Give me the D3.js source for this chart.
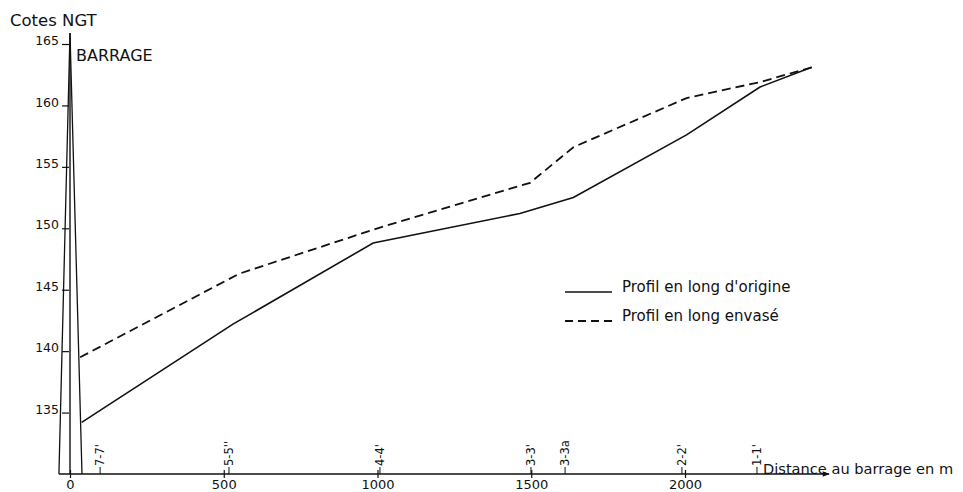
<!DOCTYPE html>
<html>
<head>
<meta charset="utf-8">
<script src="https://cdn.jsdelivr.net/npm/d3@7"></script>
<style>
  html, body { margin: 0; padding: 0; background: #fff; }
  svg { display: block; font-family: "DejaVu Sans", sans-serif; }
  text { fill: #111; }
</style>
</head>
<body>
<svg id="chart" width="963" height="492"></svg>
<script>
// Longitudinal profile of the reservoir bed (distance from dam, m; elevation NGT, m)
const distTicks = [0, 500, 1000, 1500, 2000];
const elevTicks = [135, 140, 145, 150, 155, 160, 165];

const stationNames = ["7-7'", "5-5''", "4-4'", "3-3'", "3-3a", "2-2'", "1-1'"];
const stationDist = [98, 517, 1008, 1499, 1610, 1990, 2234];

// original bed profile
const originDist = [38, 530, 986, 1463, 1637, 2005, 2244, 2412];
const originElev = [134.2, 142.2, 148.8, 151.2, 152.5, 157.6, 161.5, 163.1];

// silted bed profile
const siltDist = [33, 550, 1000, 1496, 1637, 2005, 2244, 2412];
const siltElev = [139.5, 146.3, 150.0, 153.7, 156.6, 160.6, 161.9, 163.1];

// dam cross-section outline
const damDist = [-36, 0, 39];
const damElev = [130, 165.9, 130];

const legendLabels = ["Profil en long d'origine", "Profil en long envasé"];

const svg = d3.select("#chart");
svg.append("rect").attr("width", 963).attr("height", 492).attr("fill", "#fff");

const x = d3.scaleLinear().domain([0, 2000]).range([70, 685]);
const y = d3.scaleLinear().domain([130, 165]).range([474, 44]);
const ink = "#111";

// arrow marker for distance axis
svg.append("defs").append("marker")
  .attr("id", "arrow").attr("viewBox", "0 0 10 10")
  .attr("refX", 9).attr("refY", 5)
  .attr("markerWidth", 9).attr("markerHeight", 7)
  .attr("markerUnits", "userSpaceOnUse")
  .attr("orient", "auto")
  .append("path").attr("d", "M0,1 L10,5 L0,9 Z").attr("fill", ink);

// distance axis line
svg.append("line")
  .attr("x1", x(-36)).attr("x2", 829)
  .attr("y1", y(130)).attr("y2", y(130))
  .attr("stroke", ink).attr("stroke-width", 1.5)
  .attr("marker-end", "url(#arrow)");

// distance ticks
const xAxis = d3.axisBottom(x).tickValues(distTicks).tickSize(4).tickPadding(7).tickFormat(d3.format("d"));
const gx = svg.append("g").attr("transform", `translate(0,${y(130)})`).call(xAxis);
gx.select(".domain").remove();
gx.selectAll(".tick line").attr("y1", -4).attr("y2", 4).attr("stroke", ink).attr("stroke-width", 1.2);
gx.selectAll(".tick text")
  .attr("font-size", 13).attr("font-family", "DejaVu Sans, sans-serif")
  .attr("fill", ink).attr("dy", null).attr("y", 14.5);

// elevation ticks along the dam axis
const yAxis = d3.axisLeft(y).tickValues(elevTicks).tickSize(7).tickPadding(3);
const gy = svg.append("g").attr("transform", `translate(${x(0) - 1},0)`).call(yAxis);
gy.select(".domain").remove();
gy.selectAll(".tick line").attr("stroke", ink).attr("stroke-width", 1.2);
gy.selectAll(".tick text")
  .attr("font-size", 12.5).attr("font-family", "DejaVu Sans, sans-serif")
  .attr("fill", ink).attr("dy", "0.05em");

// dam outline and axis
const line = d3.line().x(d => x(d[0])).y(d => y(d[1]));
svg.append("path")
  .attr("d", line(damDist.map((d, i) => [d, damElev[i]])))
  .attr("fill", "none").attr("stroke", ink).attr("stroke-width", 1.3)
  .attr("stroke-linejoin", "miter");
svg.append("line")
  .attr("x1", x(0)).attr("x2", x(0))
  .attr("y1", y(130)).attr("y2", y(165.9))
  .attr("stroke", ink).attr("stroke-width", 1.4);

// profiles
svg.append("path")
  .attr("d", line(originDist.map((d, i) => [d, originElev[i]])))
  .attr("fill", "none").attr("stroke", ink).attr("stroke-width", 1.6);
svg.append("path")
  .attr("d", line(siltDist.map((d, i) => [d, siltElev[i]])))
  .attr("fill", "none").attr("stroke", ink).attr("stroke-width", 1.8)
  .attr("stroke-dasharray", "9,5");

// cross-section stations
const st = svg.append("g").selectAll("g").data(stationNames).join("g")
  .attr("transform", (d, i) => `translate(${x(stationDist[i])},${y(130)})`);
st.append("line").attr("y1", 0).attr("y2", -7).attr("stroke", ink).attr("stroke-width", 1);
st.append("text")
  .attr("transform", "translate(4,-8) rotate(-90)")
  .attr("font-size", 11.5).attr("text-anchor", "start")
  .text(d => d);

// titles
svg.append("text").attr("x", 10).attr("y", 26).attr("font-size", 16.5).text("Cotes NGT");
svg.append("text").attr("x", 76).attr("y", 61).attr("font-size", 16).text("BARRAGE");
svg.append("text").attr("x", 763).attr("y", 474).attr("font-size", 14.6).text("Distance au barrage en m");

// legend
const lg = svg.append("g").selectAll("g").data(legendLabels).join("g")
  .attr("transform", (d, i) => `translate(565,${292 + i * 29})`);
lg.append("line").attr("x1", 0).attr("x2", 47)
  .attr("stroke", ink).attr("stroke-width", (d, i) => i ? 1.8 : 1.6)
  .attr("stroke-dasharray", (d, i) => i ? "8,5" : null);
lg.append("text").attr("x", 57).attr("y", 0).attr("font-size", 15).text(d => d);
</script>
</body>
</html>
